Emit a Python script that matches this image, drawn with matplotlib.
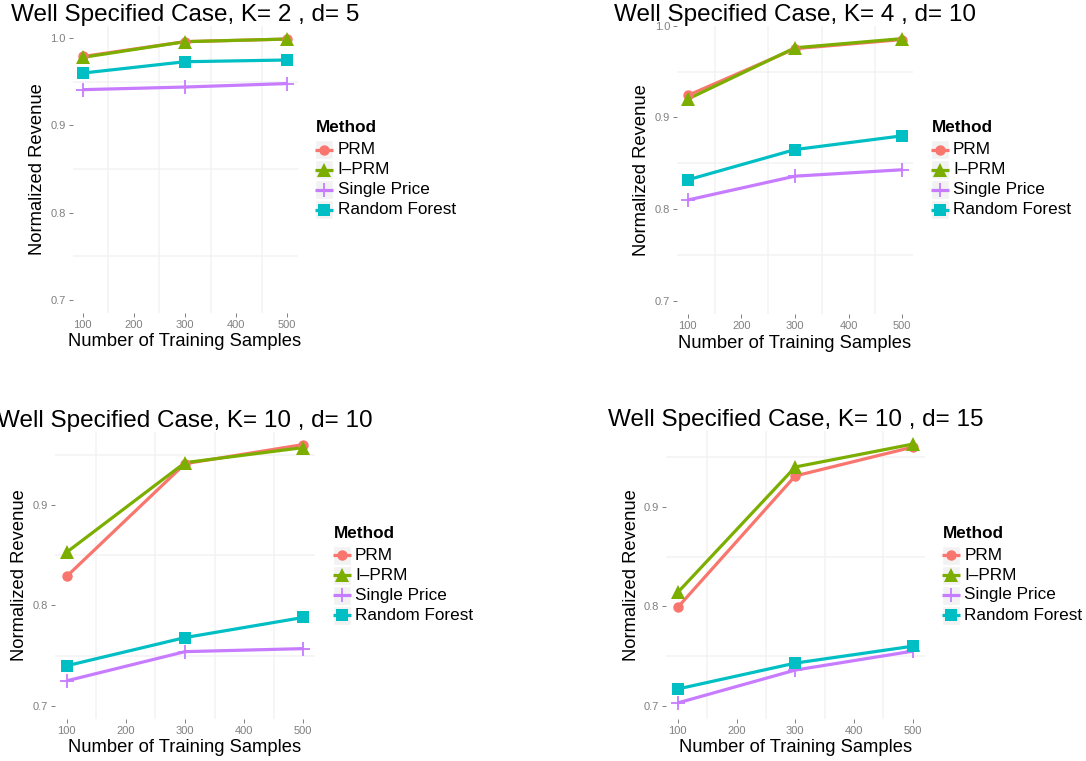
import numpy as np
import matplotlib
matplotlib.use('Agg')
import matplotlib.pyplot as plt
from matplotlib.patches import Rectangle
from matplotlib.ticker import FixedLocator

plt.rcParams['font.family'] = ['Liberation Sans', 'DejaVu Sans']

# data
samples = [100, 300, 500]
methods = ['PRM', 'I\u2013PRM', 'Single Price', 'Random Forest']
K_vals = [2, 4, 10, 10]
d_vals = [5, 10, 10, 15]

prm_1 = [0.979, 0.996, 0.999]
iprm_1 = [0.978, 0.996, 0.999]
single_1 = [0.941, 0.944, 0.948]
forest_1 = [0.960, 0.973, 0.975]

prm_2 = [0.924, 0.975, 0.985]
iprm_2 = [0.920, 0.976, 0.986]
single_2 = [0.810, 0.836, 0.843]
forest_2 = [0.832, 0.865, 0.880]

prm_3 = [0.829, 0.941, 0.960]
iprm_3 = [0.853, 0.942, 0.957]
single_3 = [0.725, 0.754, 0.757]
forest_3 = [0.740, 0.768, 0.788]

prm_4 = [0.799, 0.931, 0.960]
iprm_4 = [0.814, 0.940, 0.963]
single_4 = [0.703, 0.736, 0.755]
forest_4 = [0.717, 0.743, 0.760]

panels = [
    [prm_1, iprm_1, single_1, forest_1],
    [prm_2, iprm_2, single_2, forest_2],
    [prm_3, iprm_3, single_3, forest_3],
    [prm_4, iprm_4, single_4, forest_4],
]

# ggplot hue palette and shapes
colors = ['#F8766D', '#7CAE00', '#C77CFF', '#00BFC4']
markers = ['o', '^', '+', 's']
msizes = [7.5, 9.5, 10, 8.5]

W, H = 1086, 761
fig = plt.figure(figsize=(W / 100, H / 100), dpi=100)
fig.patch.set_facecolor('white')

# panel boxes in pixels: left, top, right, bottom
boxes = [(72.5, 26, 297.5, 313),
         (677, 25.5, 913, 314),
         (55, 431.5, 315, 719),
         (666, 431, 924.5, 719)]

grey = '#808080'

over = fig.add_axes([0, 0, 1, 1], zorder=5)
over.set_xlim(0, W)
over.set_ylim(H, 0)
over.axis('off')
over.patch.set_alpha(0)

for i, (vals, box) in enumerate(zip(panels, boxes)):
    l, t, r, b = box
    ax = fig.add_axes([l / W, 1 - b / H, (r - l) / W, (b - t) / H])
    ax.set_facecolor('white')
    for s in ax.spines.values():
        s.set_visible(False)

    # lines first, then points, like ggplot layers
    for j, v in enumerate(vals):
        ax.plot(samples, v, color=colors[j], lw=2.3, solid_capstyle='butt', zorder=3)
    for j, v in enumerate(vals):
        ax.plot(samples, v, ls='none', marker=markers[j], ms=msizes[j],
                color=colors[j], mew=1.3 if markers[j] == '+' else 0, zorder=4)

    lo = min(0.7, min(min(v) for v in vals))
    hi = max(max(v) for v in vals)
    pad = (hi - lo) * 0.05
    ax.set_ylim(lo - pad, hi + pad)
    ax.set_xlim(80, 520)

    yt = [y for y in [0.7, 0.8, 0.9, 1.0] if lo - pad <= y <= hi + pad]
    ax.yaxis.set_major_locator(FixedLocator(yt))
    ax.set_yticklabels(['%.1f' % y for y in yt])
    ax.xaxis.set_major_locator(FixedLocator([100, 200, 300, 400, 500]))
    ax.xaxis.set_minor_locator(FixedLocator([150, 250, 350, 450]))
    ax.yaxis.set_minor_locator(FixedLocator([0.75, 0.85, 0.95]))
    ax.grid(which='minor', color='#F2F2F2', lw=1.1, zorder=0)
    ax.set_axisbelow(True)
    ax.tick_params(which='major', length=2.6, width=0.7, color=grey,
                   labelcolor=grey, labelsize=8, pad=2.4)
    ax.tick_params(which='minor', length=0)

    cx = (l + r) / 2
    cy = (t + b) / 2
    over.text(cx, t - 11, 'Well Specified Case, K= %d , d= %d' % (K_vals[i], d_vals[i]),
              ha='center', va='center', fontsize=17.5)
    over.text(l - 35, cy, 'Normalized Revenue', rotation=90,
              ha='center', va='center', fontsize=13.2)
    over.text(cx, b + 29, 'Number of Training Samples',
              ha='center', va='center', fontsize=13.2)

    # legend
    kx = r + 17.5
    over.text(kx + 1, cy - 42, 'Method', ha='left', va='center',
              fontsize=12.3, fontweight='bold')
    for j, name in enumerate(methods):
        ky = cy - 20 + 20 * j
        over.add_patch(Rectangle((kx, ky - 9.5), 18, 19, facecolor='#F2F2F2',
                                 edgecolor='white', lw=1))
        over.plot([kx, kx + 18], [ky, ky], color=colors[j], lw=2.3,
                  solid_capstyle='butt')
        over.plot([kx + 9], [ky], ls='none', marker=markers[j], ms=msizes[j],
                  color=colors[j], mew=1.3 if markers[j] == '+' else 0)
        over.text(kx + 22.5, ky, name, ha='left', va='center', fontsize=12.3)

fig.savefig('out.png', dpi=100, facecolor='white')
